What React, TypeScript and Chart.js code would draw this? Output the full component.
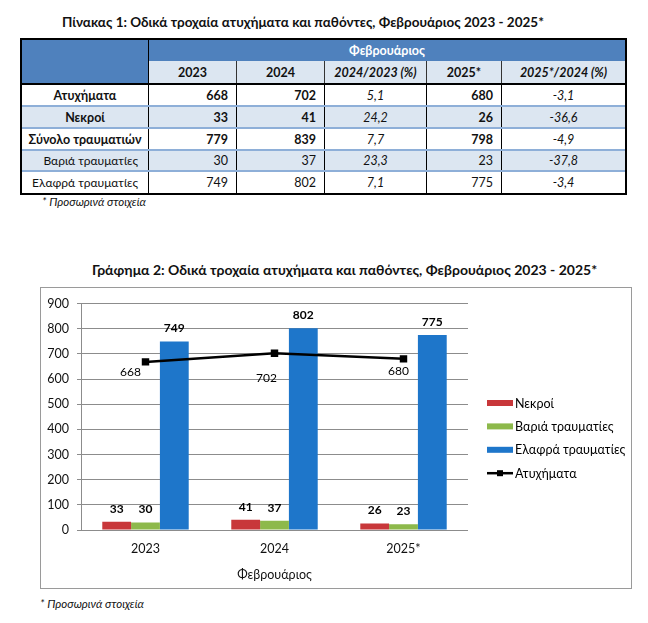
import { useEffect, useRef } from "react";
import { Chart, registerables } from "chart.js";

Chart.register(...registerables);

// ---------- Table data ----------
const tableTitle = "Πίνακας 1: Οδικά τροχαία ατυχήματα και παθόντες, Φεβρουάριος 2023 - 2025*";
const tableGroupHeader = "Φεβρουάριος";
const tableHeaders = ["2023", "2024", "2024/2023 (%)", "2025*", "2025*/2024 (%)"];
const rowLabels = ["Ατυχήματα", "Νεκροί", "Σύνολο τραυματιών", "Βαριά τραυματίες", "Ελαφρά τραυματίες"];
const values2023 = [668, 33, 779, 30, 749];
const values2024 = [702, 41, 839, 37, 802];
const change2024 = ["5,1", "24,2", "7,7", "23,3", "7,1"];
const values2025 = [680, 26, 798, 23, 775];
const change2025 = ["-3,1", "-36,6", "-4,9", "-37,8", "-3,4"];
const footnote = "* Προσωρινά στοιχεία";

// ---------- Chart data ----------
const chartTitle = "Γράφημα 2: Οδικά τροχαία ατυχήματα και παθόντες, Φεβρουάριος 2023 - 2025*";
const categories = ["2023", "2024", "2025*"];
const xAxisTitle = "Φεβρουάριος";
const deaths = [33, 41, 26];
const seriousInjuries = [30, 37, 23];
const minorInjuries = [749, 802, 775];
const accidents = [668, 702, 680];
const seriesNames = ["Νεκροί", "Βαριά τραυματίες", "Ελαφρά τραυματίες", "Ατυχήματα"];
const yMin = 0;
const yMax = 900;
const yStep = 100;

const FONT = "Lato, 'Noto Sans', sans-serif";
const RED = "#C8373A";
const GREEN = "#8DB94B";
const BLUE = "#1E76CA";
const HEAD_BLUE = "#4F81BD";
const LIGHT_BLUE = "#DCE6F1";
const LINE_BLUE = "#8EAFD8";

const lineLabelOffsets = [
  [-15, 10],
  [-8, 25],
  [-5, 12],
];

const labelPlugin = {
  id: "customLabels",
  afterDatasetsDraw(chart: any) {
    const ctx = chart.ctx;
    ctx.save();
    ctx.textAlign = "center";
    ctx.textBaseline = "middle";
    ctx.fillStyle = "#000";
    chart.data.datasets.forEach((ds: any, i: number) => {
      const meta = chart.getDatasetMeta(i);
      if (meta.type === "bar") {
        ctx.font = `bold 12px ${FONT}`;
        meta.data.forEach((el: any, j: number) => {
          ctx.fillText(String(ds.data[j]), el.x, el.y - 13);
        });
      } else {
        ctx.font = `12px ${FONT}`;
        meta.data.forEach((el: any, j: number) => {
          const [dx, dy] = lineLabelOffsets[j];
          ctx.fillText(String(ds.data[j]), el.x + dx, el.y + dy);
        });
      }
    });
    // legend
    const x0 = 446;
    const y0 = 115;
    const step = 23.4;
    ctx.textAlign = "left";
    ctx.font = `12.5px ${FONT}`;
    chart.data.datasets.forEach((ds: any, i: number) => {
      const y = y0 + i * step;
      if (ds.type === "line") {
        ctx.strokeStyle = "#000";
        ctx.lineWidth = 2.5;
        ctx.beginPath();
        ctx.moveTo(x0, y);
        ctx.lineTo(x0 + 26, y);
        ctx.stroke();
        ctx.fillStyle = "#000";
        ctx.fillRect(x0 + 13 - 3, y - 3, 6, 6);
      } else {
        ctx.fillStyle = ds.backgroundColor;
        ctx.fillRect(x0, y - 3, 26, 6);
      }
      ctx.fillStyle = "#000";
      ctx.fillText(ds.label, x0 + 28, y + 0.5);
    });
    ctx.restore();
  },
};

const cellBase: any = {
  boxSizing: "border-box",
  display: "flex",
  alignItems: "center",
  overflow: "hidden",
  whiteSpace: "nowrap",
};

const colWidths = [127, 88, 88, 102, 75, 123];
const rowHeights = [22, 22, 22, 21, 21];

function DataTable() {
  const rows = rowLabels.map((label, i) => ({
    label,
    cells: [values2023[i], values2024[i], change2024[i], values2025[i], change2025[i]],
    bold: i < 3,
    shaded: i % 2 === 1,
  }));
  return (
    <div
      style={{
        position: "absolute",
        left: 20,
        top: 38,
        width: 603,
        border: "2px solid #000",
        fontFamily: FONT,
        fontSize: 12.5,
        color: "#111",
      }}
    >
      {/* header */}
      <div style={{ display: "flex", height: 45, borderBottom: "2px solid #000", boxSizing: "border-box" }}>
        <div style={{ width: colWidths[0], background: HEAD_BLUE, borderRight: "1px solid #000", boxSizing: "border-box" }} />
        <div style={{ flex: 1, display: "flex", flexDirection: "column" }}>
          <div
            style={{
              ...cellBase,
              height: 21,
              background: HEAD_BLUE,
              color: "#fff",
              fontWeight: 700,
              justifyContent: "center",
            }}
          >
            {tableGroupHeader}
          </div>
          <div style={{ display: "flex", height: 22 }}>
            {tableHeaders.map((h, k) => (
              <div
                key={h}
                style={{
                  ...cellBase,
                  width: colWidths[k + 1],
                  background: LIGHT_BLUE,
                  fontWeight: 700,
                  fontStyle: h.includes("%") ? "italic" : "normal",
                  justifyContent: "center",
                  borderRight: k < tableHeaders.length - 1 ? "1px solid #333" : "none",
                }}
              >
                {h}
              </div>
            ))}
          </div>
        </div>
      </div>
      {rows.map((r, i) => (
        <div
          key={r.label}
          style={{
            display: "flex",
            height: rowHeights[i],
            boxSizing: "border-box",
            borderBottom: i < rows.length - 1 ? `2px solid ${LINE_BLUE}` : "none",
            background: r.shaded ? LIGHT_BLUE : "#fff",
          }}
        >
          <div
            style={{
              ...cellBase,
              width: colWidths[0],
              borderRight: "1px solid #000",
              fontWeight: r.bold ? 700 : 400,
              fontSize: r.bold ? 12.5 : 12,
              justifyContent: r.bold ? "center" : "flex-end",
              paddingRight: r.bold ? 0 : 10,
            }}
          >
            {r.label}
          </div>
          {r.cells.map((c, k) => {
            const isPct = k === 2 || k === 4;
            return (
              <div
                key={k}
                style={{
                  ...cellBase,
                  width: colWidths[k + 1],
                  borderRight: k < r.cells.length - 1 ? "1px solid #000" : "none",
                  justifyContent: isPct ? "center" : "flex-end",
                  paddingRight: isPct ? 0 : 8,
                  fontWeight: !isPct && r.bold ? 700 : 400,
                  fontStyle: isPct ? "italic" : "normal",
                  fontSize: 12.5,
                }}
              >
                {c}
              </div>
            );
          })}
        </div>
      ))}
    </div>
  );
}

export default function App() {
  const canvasRef = useRef<HTMLCanvasElement>(null);

  useEffect(() => {
    if (!canvasRef.current) return;
    const tickFont = { family: FONT, size: 12.5 };
    const chart = new Chart(canvasRef.current, {
      type: "bar",
      data: {
        labels: categories,
        datasets: [
          { type: "bar", label: seriesNames[0], data: deaths, backgroundColor: RED, order: 1 },
          { type: "bar", label: seriesNames[1], data: seriousInjuries, backgroundColor: GREEN, order: 1 },
          { type: "bar", label: seriesNames[2], data: minorInjuries, backgroundColor: BLUE, order: 1 },
          {
            type: "line",
            label: seriesNames[3],
            data: accidents,
            borderColor: "#000",
            backgroundColor: "#000",
            borderWidth: 2.5,
            pointStyle: "rect",
            pointRadius: 3.5,
            pointBackgroundColor: "#000",
            pointBorderColor: "#000",
            tension: 0,
            order: 0,
          },
        ] as any,
      },
      options: {
        animation: false,
        responsive: false,
        maintainAspectRatio: false,
        layout: { padding: { top: 14, right: 163, left: 0, bottom: 0 } },
        datasets: { bar: { barPercentage: 1, categoryPercentage: 0.67 } } as any,
        plugins: {
          legend: { display: false },
          tooltip: { enabled: false },
        },
        scales: {
          x: {
            grid: { display: false, drawTicks: false },
            border: { display: false },
            ticks: { font: tickFont, color: "#111", padding: 11 },
            title: {
              display: true,
              text: xAxisTitle,
              font: tickFont,
              color: "#111",
              padding: { top: 0, bottom: 6 },
            },
            afterFit: (s: any) => {
              s.height = 58;
            },
          },
          y: {
            min: yMin,
            max: yMax,
            ticks: { stepSize: yStep, font: tickFont, color: "#111", padding: 8 },
            grid: { color: "#8C8C8C", tickLength: 4, drawTicks: true },
            border: { display: true, color: "#8C8C8C" },
            afterFit: (s: any) => {
              s.width = 40;
            },
          },
        },
      } as any,
      plugins: [labelPlugin],
    });
    return () => chart.destroy();
  }, []);

  return (
    <div
      style={{
        position: "absolute",
        left: 0,
        top: 0,
        width: 648,
        height: 623,
        background: "#fff",
        fontFamily: FONT,
        color: "#111",
      }}
    >
      <div
        style={{
          position: "absolute",
          left: 0,
          top: 13,
          width: 606,
          textAlign: "center",
          fontWeight: 700,
          fontSize: 13.5,
          lineHeight: "18px",
        }}
      >
        {tableTitle}
      </div>
      <DataTable />
      <div
        style={{
          position: "absolute",
          left: 42,
          top: 195,
          fontStyle: "italic",
          fontSize: 11.5,
          lineHeight: "14px",
        }}
      >
        {footnote}
      </div>
      <div
        style={{
          position: "absolute",
          left: 40,
          top: 261,
          width: 609,
          textAlign: "center",
          fontWeight: 700,
          fontSize: 14,
          lineHeight: "18px",
        }}
      >
        {chartTitle}
      </div>
      <div
        style={{
          position: "absolute",
          left: 40,
          top: 287,
          width: 590,
          height: 300,
          border: "1px solid #9A9A9A",
        }}
      >
        <canvas ref={canvasRef} width={590} height={300} style={{ display: "block" }} />
      </div>
      <div
        style={{
          position: "absolute",
          left: 40,
          top: 597,
          fontStyle: "italic",
          fontSize: 11.5,
          lineHeight: "14px",
        }}
      >
        {footnote}
      </div>
    </div>
  );
}
